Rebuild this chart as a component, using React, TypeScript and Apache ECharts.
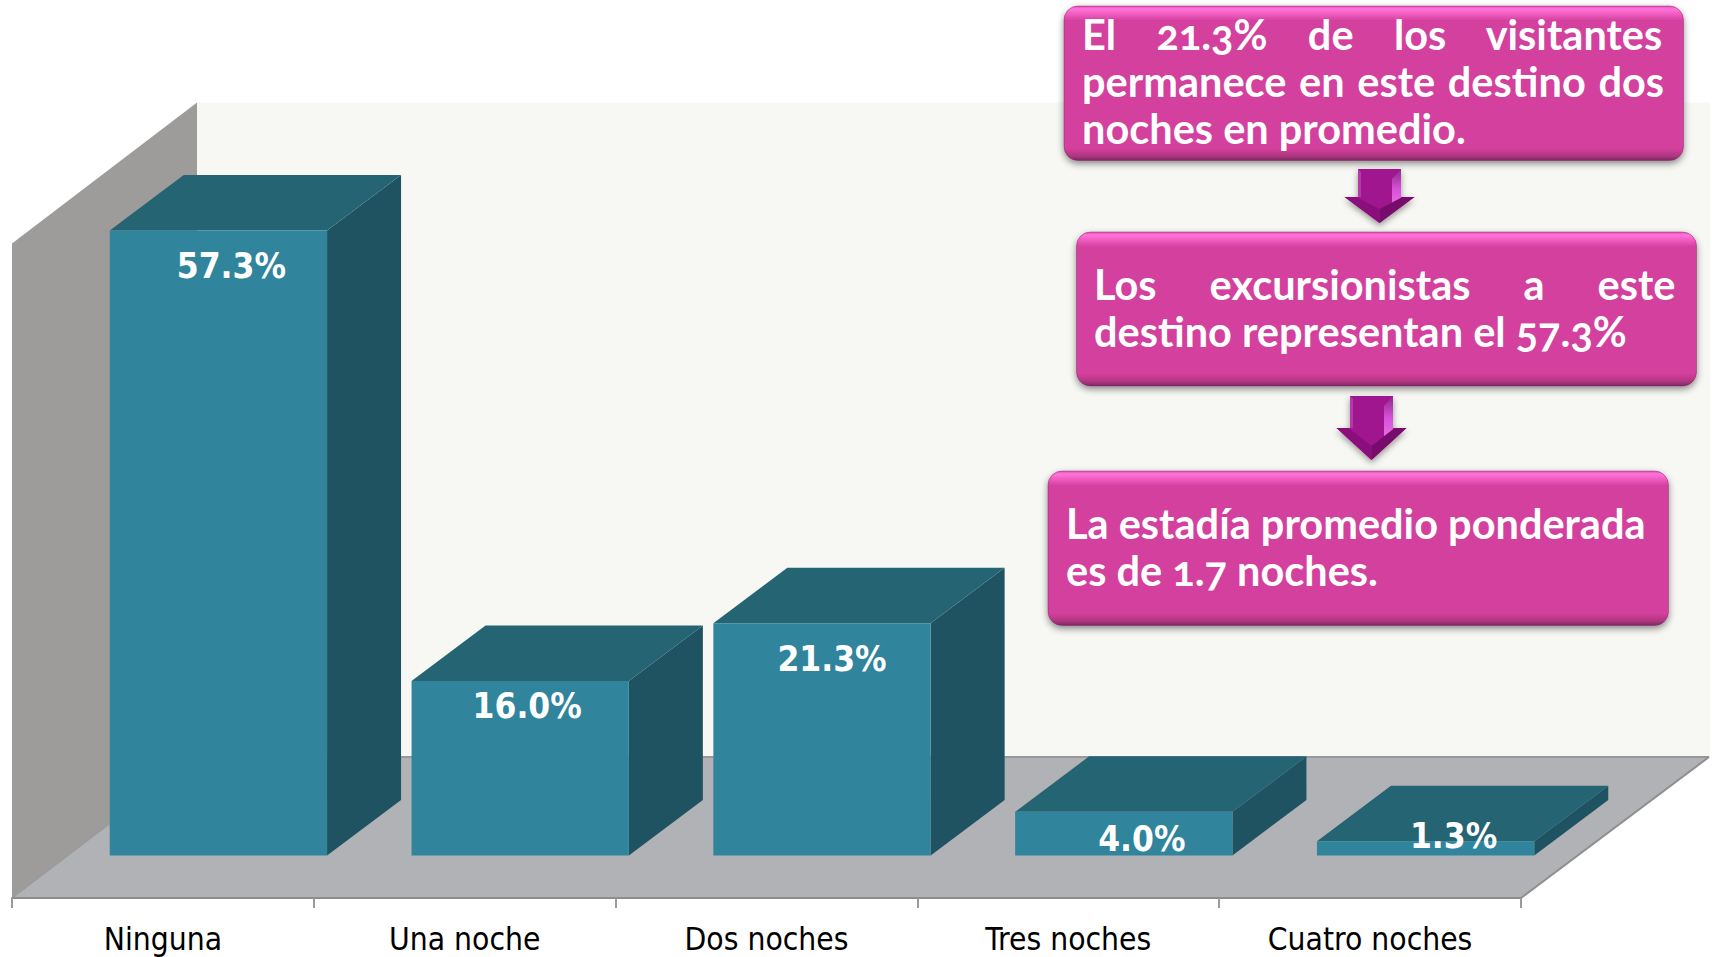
import React, { useEffect, useRef } from "react";
import * as echarts from "echarts";

const categories = ["Ninguna", "Una noche", "Dos noches", "Tres noches", "Cuatro noches"];
const values = [57.3, 16.0, 21.3, 4.0, 1.3];
const valueLabels = ["57.3%", "16.0%", "21.3%", "4.0%", "1.3%"];

const box1Lines = ["El 21.3% de los visitantes", "permanece en este destino dos", "noches en promedio."];
const box2Lines = ["Los excursionistas a este", "destino representan el 57.3%"];
const box3Lines = ["La estadía promedio ponderada", "es de 1.7 noches."];

// layout
const labelNudges = [[13, 36], [7, 25], [10, 36], [18, 27], [28, -5]];
const BOX_FONT = "bold 41.5px Lato, sans-serif";
const LABEL_FONT = "bold 35px 'DejaVu Sans Condensed', 'DejaVu Sans', sans-serif";

function justified(line: string, width: number): string {
  const ctx = document.createElement("canvas").getContext("2d")!;
  ctx.font = BOX_FONT;
  const words = line.split(" ");
  const gaps = words.length - 1;
  const wordsW = words.reduce((s, w) => s + ctx.measureText(w).width, 0);
  const sp = ctx.measureText(" ").width;
  const hair = ctx.measureText("\u200A").width || 1;
  const gapW = (width - wordsW) / gaps;
  const nSp = Math.max(1, Math.floor(gapW / sp));
  const nHair = Math.max(0, Math.round((gapW - nSp * sp) / hair));
  const gap = " ".repeat(nSp) + "\u200A".repeat(nHair);
  return words.join(gap);
}

function box(x: number, y: number, w: number, h: number, lines: { text: string; x: number; y: number }[]) {
  const edge = 15 / h;
  return {
    type: "group",
    z: 100,
    children: [
      {
        type: "rect",
        z: 100,
        shape: { x, y, width: w, height: h, r: 14 },
        style: {
          fill: {
            type: "linear", x: 0, y: 0, x2: 0, y2: 1,
            colorStops: [
              { offset: 0, color: "#E050B0" },
              { offset: 0.2 * edge, color: "#FF74DC" },
              { offset: 0.45 * edge, color: "#F562C6" },
              { offset: edge, color: "#D33F9D" },
              { offset: 1 - edge * 0.8, color: "#D33F9D" },
              { offset: 1 - 0.3 * edge, color: "#B0367F" },
              { offset: 1, color: "#7A2864" },
            ],
          },
          stroke: "rgba(130,35,105,0.45)",
          lineWidth: 1,
          shadowBlur: 7,
          shadowOffsetY: 3,
          shadowColor: "rgba(0,0,0,0.45)",
        },
      },
      ...lines.map((l) => ({
        type: "text",
        z: 101,
        x: l.x,
        y: l.y,
        style: { text: l.text, font: BOX_FONT, fill: "#FFFFFF", align: "left", verticalAlign: "middle" },
      })),
    ],
  };
}

function arrow(cx: number, top: number, headY: number, tip: number) {
  const sw = 21.5;
  const hw = 35;
  return {
    type: "group",
    z: 100,
    children: [
      {
        type: "polygon",
        z: 100,
        shape: { points: [[cx - sw, top], [cx + sw, top], [cx + sw, headY], [cx + hw, headY], [cx, tip], [cx - hw, headY], [cx - sw, headY]] },
        style: { fill: "#A0148F", shadowBlur: 6, shadowOffsetY: 3, shadowColor: "rgba(0,0,0,0.4)" },
      },
      {
        type: "polygon",
        z: 101,
        shape: { points: [[cx + sw, top], [cx + sw, headY + 6], [cx + sw - 9, headY + 16], [cx + sw - 9, top + 10]] },
        style: {
          fill: {
            type: "linear", x: 0, y: 0, x2: 0, y2: 1,
            colorStops: [
              { offset: 0, color: "#8A2A86" },
              { offset: 0.45, color: "#D651D8" },
              { offset: 0.8, color: "#E46AE6" },
              { offset: 1, color: "#A8209C" },
            ],
          },
        },
      },
      {
        type: "polygon",
        z: 101,
        shape: { points: [[cx - sw, top], [cx - sw + 3, top + 3], [cx - sw + 3, headY], [cx - sw, headY]] },
        style: { fill: "#B33AA8" },
      },
      {
        type: "polygon",
        z: 101,
        shape: { points: [[cx - hw, headY], [cx - hw + 12, headY], [cx, tip - 14], [cx, tip]] },
        style: { fill: "#8A0F7D" },
      },
      {
        type: "polygon",
        z: 101,
        shape: { points: [[cx + hw, headY], [cx + hw - 12, headY], [cx, tip - 14], [cx, tip]] },
        style: { fill: "#780C6C" },
      },
    ],
  };
}

export default function App() {
  const ref = useRef<HTMLDivElement>(null);
  useEffect(() => {
    document.body.style.margin = "0";
    const chart = echarts.init(ref.current!, null, { renderer: "svg" });
    const option = {
      animation: false,
      backgroundColor: "#FFFFFF",
      grid: { left: 12, right: 191, top: 243.5, bottom: 59 },
      xAxis: {
        type: "category",
        data: categories,
        z: 5,
        axisLine: { lineStyle: { color: "#8C8C8C", width: 2 } },
        axisTick: { show: true, alignWithLabel: false, length: 10, lineStyle: { color: "#9A9A9A", width: 2 } },
        axisLabel: { color: "#000000", fontSize: 31.5, fontFamily: "'DejaVu Sans Condensed', 'DejaVu Sans', sans-serif", margin: 25, interval: 0 },
      },
      yAxis: { type: "value", min: 0, max: 60, show: false },
      series: [
        {
          type: "custom",
          z: 1,
          silent: true,
          data: [[0]],
          renderItem: (params: any) => {
            const r = params.coordSys;
            const bx = r.x + 185;
            const by = r.y + r.height - 141;
            const fx = r.x;
            const fy = r.y + r.height;
            const rx = fx + r.width;
            const topB = by - r.height;
            return {
              type: "group",
              children: [
                { type: "polygon", shape: { points: [[bx, topB], [1710, topB], [1710, by], [bx, by]] }, style: { fill: "#F7F8F3" } },
                { type: "polygon", shape: { points: [[fx, r.y], [bx, topB], [bx, by], [fx, fy]] }, style: { fill: "#9D9C9A" } },
                { type: "polygon", shape: { points: [[fx, fy], [rx, fy], [1709, by], [bx, by]] }, style: { fill: "#B0B2B6" } },
                { type: "line", shape: { x1: bx, y1: by, x2: 1709, y2: by }, style: { stroke: "#999999", lineWidth: 2 } },
                { type: "line", shape: { x1: rx, y1: fy, x2: 1709, y2: by }, style: { stroke: "#8F8F8F", lineWidth: 2 } },
                { type: "line", shape: { x1: fx, y1: fy, x2: bx, y2: by }, style: { stroke: "#9A9A9A", lineWidth: 1.5 } },
              ],
            };
          },
        },
        {
          type: "custom",
          z: 2,
          silent: true,
          data: values.map((v, i) => [i, v]),
          encode: { x: 0, y: 1 },
          renderItem: (_: any, api: any) => {
            const i = api.value(0);
            const band = api.size([1, 0])[0];
            const [xc, y0] = api.coord([i, 0]);
            const yv = api.coord([i, api.value(1)])[1];
            const bw = band * 0.72;
            const x0 = xc + 55.5 - bw / 2;
            const x1 = x0 + bw;
            const yb = y0 - 42.5;
            const yt = yv - 42.5;
            const dx = 74;
            const dy = 55.5;
            const [nx, ny] = labelNudges[i];
            return {
              type: "group",
              children: [
                { type: "polygon", shape: { points: [[x1, yb], [x1 + dx, yb - dy], [x1 + dx, yt - dy], [x1, yt]] }, style: { fill: "#1F5362" } },
                { type: "polygon", shape: { points: [[x0, yt], [x1, yt], [x1 + dx, yt - dy], [x0 + dx, yt - dy]] }, style: { fill: "#246473" } },
                { type: "polygon", shape: { points: [[x0, yb], [x1, yb], [x1, yt], [x0, yt]] }, style: { fill: "#30849C" } },
                {
                  type: "text",
                  x: (x0 + x1) / 2 + nx,
                  y: yt + ny,
                  style: { text: valueLabels[i], font: LABEL_FONT, fill: "#FFFFFF", align: "center", verticalAlign: "middle" },
                },
              ],
            };
          },
        },
      ],
      graphic: {
        elements: [
          box(1064, 6, 619.5, 154.5, [
            { text: justified(box1Lines[0], 588), x: 1082, y: 34 },
            { text: justified(box1Lines[1], 586), x: 1082, y: 81 },
            { text: box1Lines[2], x: 1082, y: 128 },
          ]),
          box(1076.5, 232, 620, 154, [
            { text: justified(box2Lines[0], 583), x: 1094, y: 284 },
            { text: box2Lines[1], x: 1094, y: 331 },
          ]),
          box(1048, 471, 620.5, 154.5, [
            { text: box3Lines[0], x: 1066, y: 523 },
            { text: box3Lines[1], x: 1066, y: 570 },
          ]),
          arrow(1379.5, 169, 197, 223),
          arrow(1371.5, 396, 428, 460),
        ],
      },
    };
    chart.setOption(option as any);
    return () => chart.dispose();
  }, []);
  return (
    <>
      <style>{`#chart svg text { font-feature-settings: "onum" !important; white-space: pre; }`}</style>
      <div id="chart" ref={ref} style={{ position: "absolute", left: 0, top: 0, width: 1712, height: 957 }} />
    </>
  );
}
